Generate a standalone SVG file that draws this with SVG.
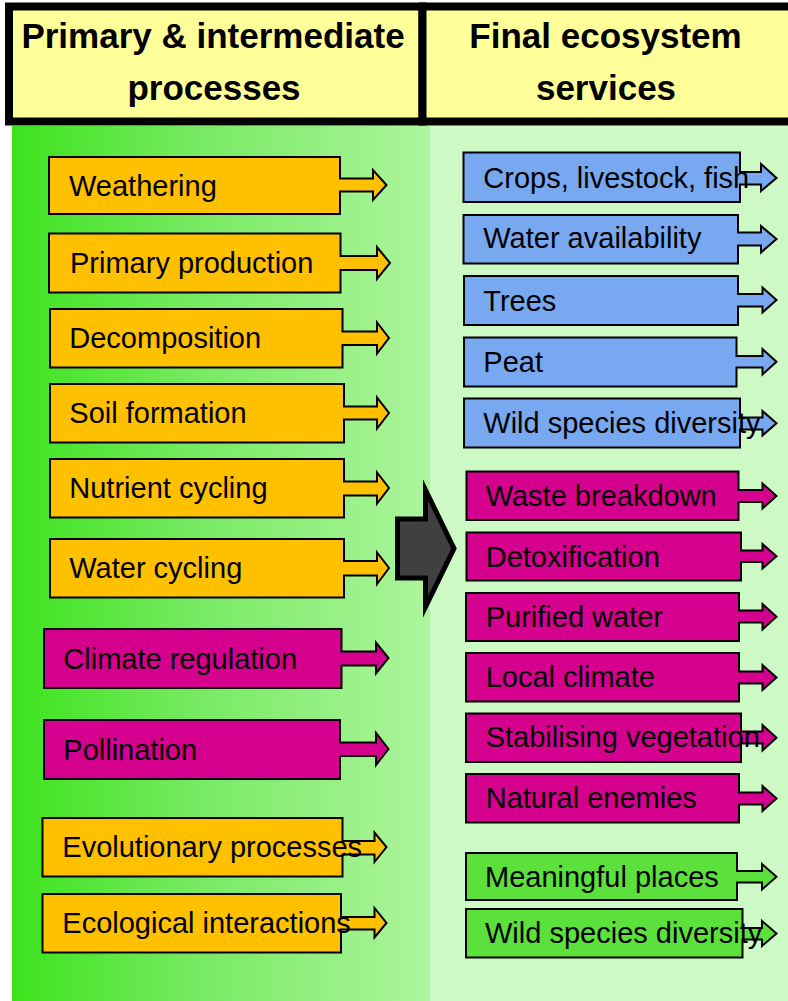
<svg xmlns="http://www.w3.org/2000/svg" width="788" height="1001" viewBox="0 0 788 1001">
  <defs>
    <linearGradient id="leftPanel" x1="0" y1="0" x2="1" y2="0">
      <stop offset="0" stop-color="#3DE31D"/>
      <stop offset="0.45" stop-color="#78EA63"/>
      <stop offset="1" stop-color="#ADF59D"/>
    </linearGradient>
    <style>
      .box { stroke: #000; stroke-width: 2; stroke-linejoin: miter; }
      .orange { fill: #FFC000; }
      .mag { fill: #D6008F; }
      .blue { fill: #78A8F0; }
      .grn { fill: #5CE03C; }
      .lbl { font-family: "Liberation Sans", Arial, sans-serif; font-size: 29px; fill: #000; }
      .head { font-family: "Liberation Sans", Arial, sans-serif; font-size: 35px; font-weight: bold; fill: #000; text-anchor: middle; }
    </style>
  </defs>

  <rect x="0" y="0" width="788" height="1001" fill="#FFFFFF"/>

  <!-- panels -->
  <rect x="12" y="126" width="418" height="875" fill="url(#leftPanel)"/>
  <rect x="430" y="126" width="358" height="875" fill="#CCF9C4"/>

  <!-- column headings -->
  <g id="header-left">
    <rect x="9" y="6.5" width="413.5" height="115" fill="#FFFF99" stroke="#000" stroke-width="8"/>
    <text class="head" x="213" y="48">Primary &amp; intermediate</text>
    <text class="head" x="214" y="100">processes</text>
  </g>
  <g id="header-right">
    <rect x="422.5" y="6.5" width="380" height="115" fill="#FFFF99" stroke="#000" stroke-width="8"/>
    <text class="head" x="605.5" y="48">Final ecosystem</text>
    <text class="head" x="606" y="100">services</text>
  </g>

  <!-- connectors -->
  <g id="connectors">
    <path d="M397.5,519 H425.5 V490 L454,548.5 L425.5,607 V578 H397.5 Z" fill="#404040" stroke="#000" stroke-width="5" stroke-linejoin="miter" stroke-miterlimit="10"/>
  </g>

  <!-- processes -->
  <g id="weathering">
    <path class="box orange" d="M49,157 H340 V178.5 H373 V170 L386.5,185 L373,200 V191.5 H340 V214 H49 Z"/>
    <text class="lbl" x="69" y="195.7">Weathering</text>
  </g>
  <g id="primary-production">
    <path class="box orange" d="M49,233.5 H340.5 V256 H377 V247 L390,263 L377,279 V270 H340.5 V292.5 H49 Z"/>
    <text class="lbl" x="70" y="273.3">Primary production</text>
  </g>
  <g id="decomposition">
    <path class="box orange" d="M50,309 H342.5 V331.5 H377 V322.5 L389,338 L377,353.5 V345 H342.5 V367.5 H50 Z"/>
    <text class="lbl" x="69.3" y="348.3">Decomposition</text>
  </g>
  <g id="soil-formation">
    <path class="box orange" d="M50,384 H344 V406.5 H377 V397.5 L389,413 L377,428.5 V419.5 H344 V442.5 H50 Z"/>
    <text class="lbl" x="69.3" y="423.3">Soil formation</text>
  </g>
  <g id="nutrient-cycling">
    <path class="box orange" d="M50,459 H344 V481.5 H377 V472.5 L389,488 L377,503.5 V495.5 H344 V517.5 H50 Z"/>
    <text class="lbl" x="69.3" y="498.3">Nutrient cycling</text>
  </g>
  <g id="water-cycling">
    <path class="box orange" d="M50,539 H344 V561 H377 V552.5 L389,568 L377,584 V575.5 H344 V597.5 H50 Z"/>
    <text class="lbl" x="69.3" y="578.3">Water cycling</text>
  </g>
  <g id="climate-regulation">
    <path class="box mag" d="M44,629 H341.5 V651.5 H376 V642.5 L388.5,658 L376,673.5 V665.5 H341.5 V688 H44 Z"/>
    <text class="lbl" x="63.3" y="669.3">Climate regulation</text>
  </g>
  <g id="pollination">
    <path class="box mag" d="M44,720 H340 V742.5 H376 V733 L388.5,749 L376,765 V756 H340 V779 H44 Z"/>
    <text class="lbl" x="63.3" y="760">Pollination</text>
  </g>
  <g id="evolutionary-processes">
    <path class="box orange" d="M42.5,818 H342.5 V841 H374.5 V832.5 L386.5,847 L374.5,862 V854.5 H342.5 V876.5 H42.5 Z"/>
    <text class="lbl" x="62.3" y="857.3">Evolutionary processes</text>
  </g>
  <g id="ecological-interactions">
    <path class="box orange" d="M42.5,894 H341 V917 H374.5 V908 L386.5,923 L374.5,937.5 V929.5 H341 V952.5 H42.5 Z"/>
    <text class="lbl" x="62.3" y="933.3">Ecological interactions</text>
  </g>

  <!-- final services -->
  <g id="crops">
    <path class="box blue" d="M463.5,152.5 H740 V172 H761 V164 L776.5,178 L761,191 V184.5 H740 V202 H463.5 Z"/>
    <text class="lbl" x="483.3" y="188.3">Crops, livestock, fish</text>
  </g>
  <g id="water-availability">
    <path class="box blue" d="M463.5,215 H738 V232.5 H761 V226 L776.5,239 L761,252.5 V245.5 H738 V263.5 H463.5 Z"/>
    <text class="lbl" x="483.3" y="248.3">Water availability</text>
  </g>
  <g id="trees">
    <path class="box blue" d="M464,276 H738 V294 H762.5 V287.5 L776.5,300 L762.5,312.5 V306.5 H738 V325 H464 Z"/>
    <text class="lbl" x="483.3" y="310.7">Trees</text>
  </g>
  <g id="peat">
    <path class="box blue" d="M464,337.5 H736.5 V356 H762.5 V349 L776.5,361.7 L762.5,374.5 V367.5 H736.5 V386.5 H464 Z"/>
    <text class="lbl" x="483.3" y="371.7">Peat</text>
  </g>
  <g id="wild-species-blue">
    <path class="box blue" d="M464,398.5 H740 V417.5 H762.5 V411 L776.5,423.3 L762.5,435.5 V429.5 H740 V447.5 H464 Z"/>
    <text class="lbl" x="483.3" y="433.3">Wild species diversity</text>
  </g>
  <g id="waste-breakdown">
    <path class="box mag" d="M466.5,471.5 H738.5 V490 H762.5 V483.5 L776.5,496 L762.5,508.5 V502 H738.5 V520 H466.5 Z"/>
    <text class="lbl" x="485.7" y="506">Waste breakdown</text>
  </g>
  <g id="detoxification">
    <path class="box mag" d="M466.5,532.5 H741 V550.5 H762.5 V544 L776.5,556.3 L762.5,568.5 V562 H741 V580.5 H466.5 Z"/>
    <text class="lbl" x="485.7" y="566.7">Detoxification</text>
  </g>
  <g id="purified-water">
    <path class="box mag" d="M466,593 H739 V610.5 H762.5 V604 L776.5,616.7 L762.5,629.5 V622.5 H739 V641 H466 Z"/>
    <text class="lbl" x="485.7" y="626.7">Purified water</text>
  </g>
  <g id="local-climate">
    <path class="box mag" d="M466,653 H739 V671.5 H762.5 V665 L776.5,677.4 L762.5,690 V683.5 H739 V701.5 H466 Z"/>
    <text class="lbl" x="485.7" y="687.3">Local climate</text>
  </g>
  <g id="stabilising-vegetation">
    <path class="box mag" d="M466,713.5 H741 V731.5 H762.5 V725 L776.5,737.7 L762.5,750.5 V743.5 H741 V762 H466 Z"/>
    <text class="lbl" x="485.7" y="747.3">Stabilising vegetation</text>
  </g>
  <g id="natural-enemies">
    <path class="box mag" d="M466,774 H739 V792.5 H762.5 V786 L776.5,798.4 L762.5,811 V804.5 H739 V822.5 H466 Z"/>
    <text class="lbl" x="485.7" y="808.3">Natural enemies</text>
  </g>
  <g id="meaningful-places">
    <path class="box grn" d="M466,853 H737 V871 H762 V864 L776.5,876.7 L762,889.5 V882.5 H737 V900 H466 Z"/>
    <text class="lbl" x="485" y="886.7">Meaningful places</text>
  </g>
  <g id="wild-species-green">
    <path class="box grn" d="M466,909 H742.5 V928 H762 V921 L776.5,933.5 L762,946 V939.5 H742.5 V957.5 H466 Z"/>
    <text class="lbl" x="485" y="943.3">Wild species diversity</text>
  </g>
</svg>
